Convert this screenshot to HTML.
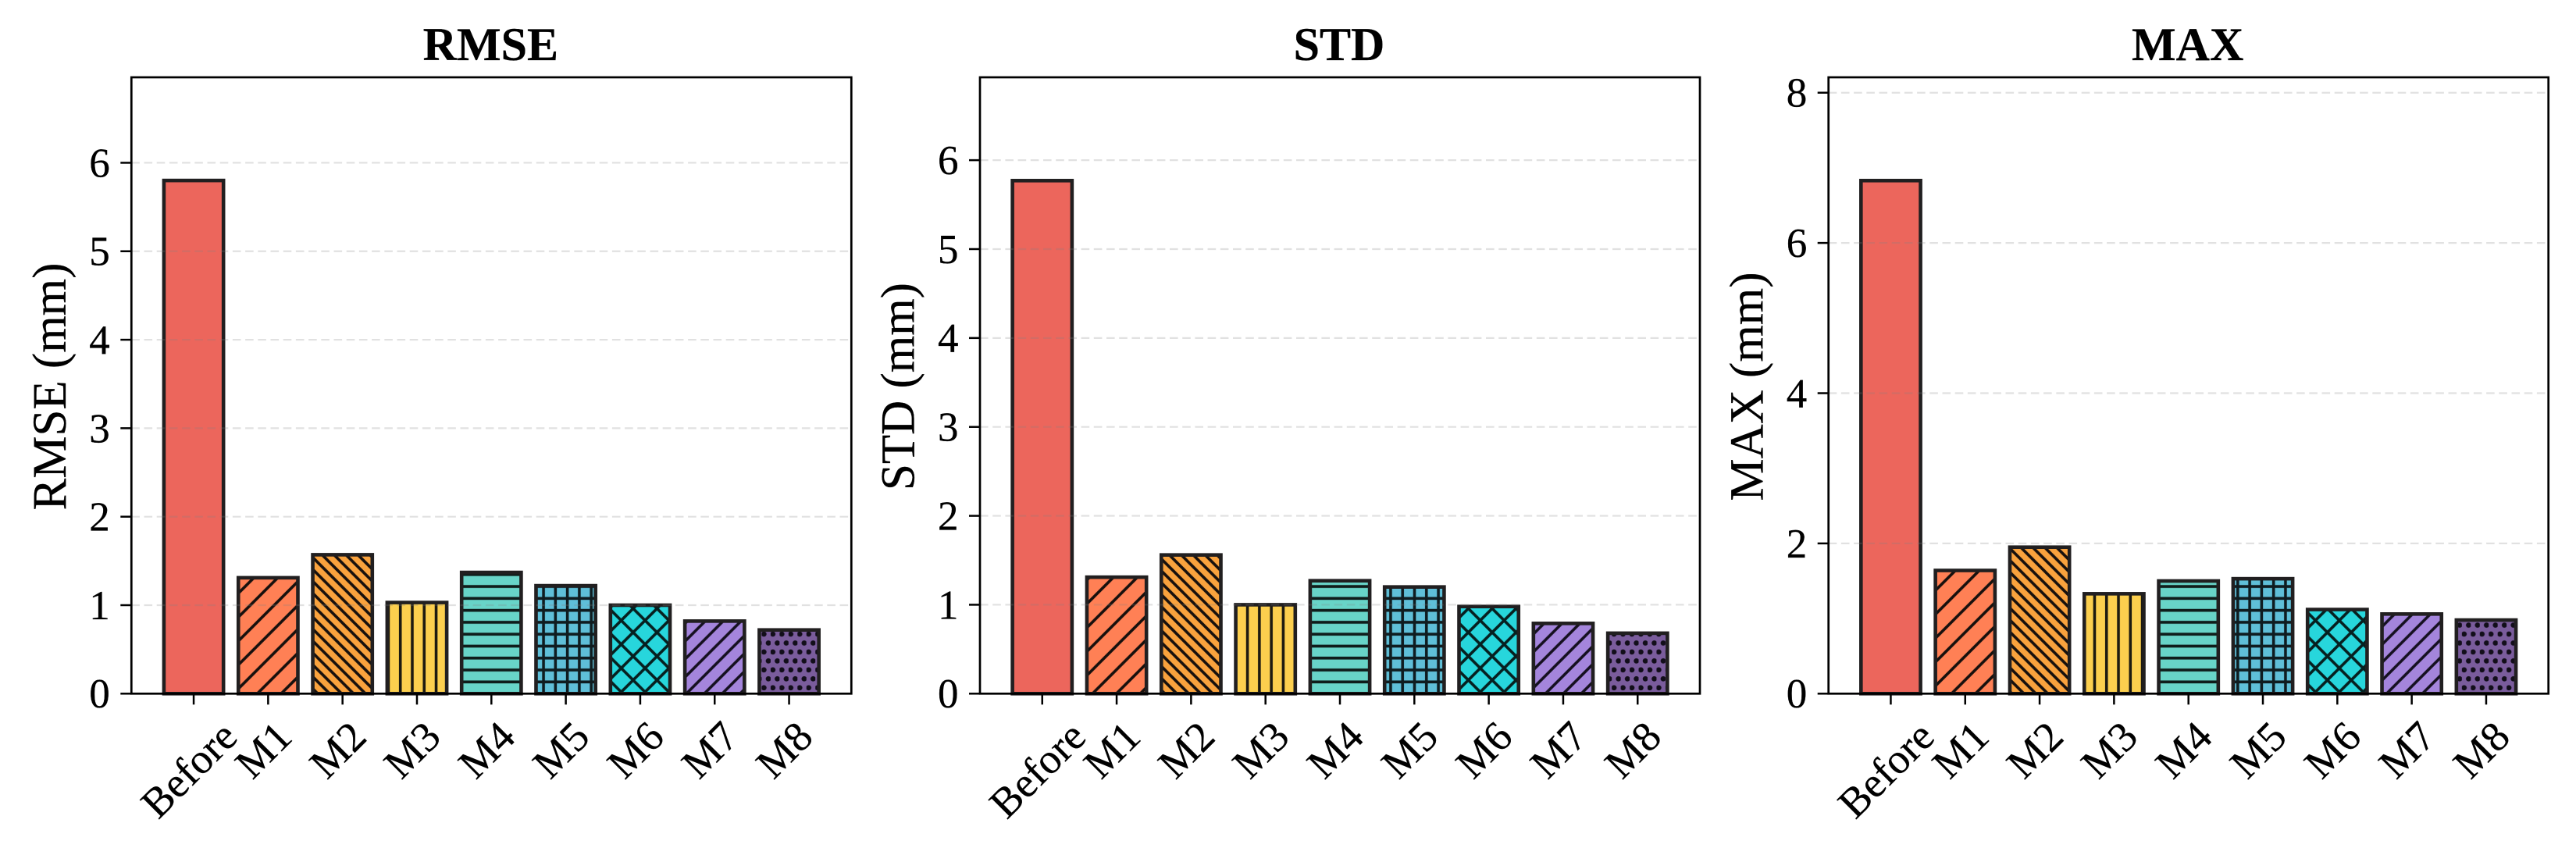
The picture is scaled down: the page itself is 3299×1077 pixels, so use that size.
<!DOCTYPE html>
<html lang="en">
<head>
<meta charset="utf-8">
<title>RMSE, STD and MAX error comparison</title>
<style>
  html, body { margin: 0; padding: 0; background: #ffffff; }
  body { width: 3299px; height: 1077px; overflow: hidden; }
  svg { display: block; }
  text { font-family: "Liberation Serif", "Times New Roman", serif; fill: #000; stroke: #000; stroke-width: 0.3px; }
</style>
</head>
<body>
<svg id="figure" xmlns="http://www.w3.org/2000/svg" width="3299" height="1077" viewBox="0 0 3299 1077">
  <rect x="0" y="0" width="3299" height="1077" fill="#ffffff"/>
  <defs>
    <pattern id="hatch-m1" patternUnits="userSpaceOnUse" width="30.56" height="30.56" patternTransform="translate(26 0)">
      <rect width="30.56" height="30.56" fill="#FF8055"/>
      <path d="M-5 35.56L35.56 -5M-5 5L5 -5M25.56 35.56L35.56 25.56" stroke="#17100d" stroke-width="3.6" fill="none"/>
    </pattern>
    <pattern id="hatch-m2" patternUnits="userSpaceOnUse" width="15.28" height="15.28" patternTransform="translate(7.6 0)">
      <rect width="15.28" height="15.28" fill="#F9A23D"/>
      <path d="M-5 -5L20.28 20.28M-5 10.28L5 20.28M10.28 -5L20.28 5" stroke="#17100d" stroke-width="3.6" fill="none"/>
    </pattern>
    <pattern id="hatch-m3" patternUnits="userSpaceOnUse" width="15.28" height="15.28" patternTransform="translate(0.82 0)">
      <rect width="15.28" height="15.28" fill="#FCCF4E"/>
      <path d="M7.64 -2V17.28" stroke="#1d1a10" stroke-width="3.6" fill="none"/>
    </pattern>
    <pattern id="hatch-m4" patternUnits="userSpaceOnUse" width="15.28" height="15.28" patternTransform="translate(0 -5.3)">
      <rect width="15.28" height="15.28" fill="#68D4C8"/>
      <path d="M-2 7.64H17.28" stroke="#0f1d1b" stroke-width="3.6" fill="none"/>
    </pattern>
    <pattern id="hatch-m5" patternUnits="userSpaceOnUse" width="15.28" height="15.28" patternTransform="translate(0.82 -5.3)">
      <rect width="15.28" height="15.28" fill="#5FBFD8"/>
      <path d="M-2 7.64H17.28M7.64 -2V17.28" stroke="#0f1c20" stroke-width="3.6" fill="none"/>
    </pattern>
    <pattern id="hatch-m6" patternUnits="userSpaceOnUse" width="30.56" height="30.56" patternTransform="translate(1 0)">
      <rect width="30.56" height="30.56" fill="#27D6DC"/>
      <path d="M-5 35.56L35.56 -5M-5 5L5 -5M25.56 35.56L35.56 25.56M-5 -5L35.56 35.56M-5 25.56L5 35.56M25.56 -5L35.56 5" stroke="#062020" stroke-width="3.6" fill="none"/>
    </pattern>
    <pattern id="hatch-m7" patternUnits="userSpaceOnUse" width="22.92" height="22.92" patternTransform="translate(2.5 0)">
      <rect width="22.92" height="22.92" fill="#A485DC"/>
      <path d="M-5 27.92L27.92 -5M-5 5L5 -5M17.92 27.92L27.92 17.92" stroke="#151020" stroke-width="3.6" fill="none"/>
    </pattern>
    <pattern id="hatch-m8" patternUnits="userSpaceOnUse" width="11.46" height="22.92" patternTransform="translate(1.34 4.07)">
      <rect width="11.46" height="22.92" fill="#7A5C9C"/>
      <circle cx="2.865" cy="5.73" r="3.4" fill="#120e1a"/>
      <circle cx="8.595" cy="17.19" r="3.4" fill="#120e1a"/>
    </pattern>
  </defs>
</svg>
<script>
// Chart data.
const categories = ['Before', 'M1', 'M2', 'M3', 'M4', 'M5', 'M6', 'M7', 'M8'];
const rmseValues = [5.80, 1.31, 1.57, 1.03, 1.37, 1.22, 1.00, 0.82, 0.72];
const stdValues = [5.77, 1.31, 1.56, 1.00, 1.27, 1.20, 0.98, 0.79, 0.68];
const maxValues = [6.83, 1.64, 1.95, 1.33, 1.50, 1.53, 1.12, 1.06, 0.98];
const rmseTicks = [0, 1, 2, 3, 4, 5, 6];
const stdTicks = [0, 1, 2, 3, 4, 5, 6];
const maxTicks = [0, 2, 4, 6, 8];
const rmseYMax = 6.966;
const stdYMax = 6.932;
const maxYMax = 8.205;

// Styling, by category position.
const barFills = ['#EC665C', 'url(#hatch-m1)', 'url(#hatch-m2)', 'url(#hatch-m3)', 'url(#hatch-m4)', 'url(#hatch-m5)', 'url(#hatch-m6)', 'url(#hatch-m7)', 'url(#hatch-m8)'];

const SVG_NS = 'http://www.w3.org/2000/svg';
const svg = document.getElementById('figure');
const PLOT_TOP = 99;
const PLOT_BOTTOM = 888.3;
const PLOT_WIDTH = 922;
const X_MIN = -0.8367;
const X_MAX = 8.8367;
const BAR_WIDTH = 0.8;

function make(tag, parent) {
  const el = document.createElementNS(SVG_NS, tag);
  parent.appendChild(el);
  return el;
}
function setAll(el, props) {
  Object.keys(props).forEach(function (k) { el.setAttribute(k, props[k]); });
}

function drawPanel(key, left, title, yLabel, values, ticks, yMax) {
  const xScale = function (v) { return left + (v - X_MIN) / (X_MAX - X_MIN) * PLOT_WIDTH; };
  const yScale = function (v) { return PLOT_BOTTOM - v / yMax * (PLOT_BOTTOM - PLOT_TOP); };
  const right = left + PLOT_WIDTH;

  const panel = make('g', svg);
  
  

  // Bars
  values.forEach(function (value, i) {
    const bar = make('rect', panel);
    
    
    setAll(bar, {
      x: xScale(i - BAR_WIDTH / 2),
      y: yScale(value),
      width: xScale(i + BAR_WIDTH / 2) - xScale(i - BAR_WIDTH / 2),
      height: yScale(0) - yScale(value),
      fill: barFills[i],
      stroke: '#211f20',
      'stroke-width': 4.6
    });
  });

  // Gridlines sit above the bars, as in the reference
  ticks.forEach(function (tick) {
    const grid = make('line', panel);
    
    
    setAll(grid, {
      x1: left, x2: right, y1: yScale(tick), y2: yScale(tick),
      stroke: '#808080', 'stroke-opacity': 0.24, 'stroke-width': 2.2,
      'stroke-dasharray': '10.6 5.6'
    });
  });

  // Y ticks and labels
  ticks.forEach(function (tick) {
    const mark = make('line', panel);
    
    
    setAll(mark, {
      x1: left - 14, x2: left, y1: yScale(tick), y2: yScale(tick),
      stroke: '#000', 'stroke-width': 2.5
    });
    const label = make('text', panel);
    
    
    setAll(label, {
      x: left - 27.5, y: yScale(tick) + 17.9,
      'text-anchor': 'end', 'font-size': 53
    });
    label.textContent = String(tick);
  });

  // X ticks and rotated labels
  categories.forEach(function (name, i) {
    const mark = make('line', panel);
    
    
    setAll(mark, {
      x1: xScale(i), x2: xScale(i), y1: PLOT_BOTTOM, y2: PLOT_BOTTOM + 14,
      stroke: '#000', 'stroke-width': 2.5
    });
    const label = make('text', panel);
    
    
    setAll(label, { x: 0, y: 9.3, 'text-anchor': 'middle', 'font-size': 54 });
    label.textContent = name;
    const len = label.getComputedTextLength();
    const cy = 923 + (len + 48) * 0.3536;
    label.setAttribute('transform', 'translate(' + xScale(i) + ' ' + cy + ') rotate(-45)');
  });

  // Spines
  const frame = make('rect', panel);
  
  
  setAll(frame, {
    x: left, y: PLOT_TOP, width: PLOT_WIDTH, height: PLOT_BOTTOM - PLOT_TOP,
    fill: 'none', stroke: '#000', 'stroke-width': 2.7
  });

  // Title
  const titleEl = make('text', panel);
  
  
  setAll(titleEl, {
    x: left + PLOT_WIDTH / 2 - 1, y: 77,
    'text-anchor': 'middle', 'font-size': 60, 'font-weight': 'bold'
  });
  titleEl.textContent = title;

  // Y axis title
  const axisTitle = make('text', panel);
  
  
  const ax = left - 84.3;
  const ay = 495;
  setAll(axisTitle, {
    x: ax, y: ay, 'text-anchor': 'middle', 'font-size': 61,
    transform: 'rotate(-90 ' + ax + ' ' + ay + ')'
  });
  axisTitle.textContent = yLabel;
}

drawPanel('rmse', 168.3, 'RMSE', 'RMSE (mm)', rmseValues, rmseTicks, rmseYMax);
drawPanel('std', 1255, 'STD', 'STD (mm)', stdValues, stdTicks, stdYMax);
drawPanel('max', 2341.7, 'MAX', 'MAX (mm)', maxValues, maxTicks, maxYMax);
</script>
</body>
</html>
